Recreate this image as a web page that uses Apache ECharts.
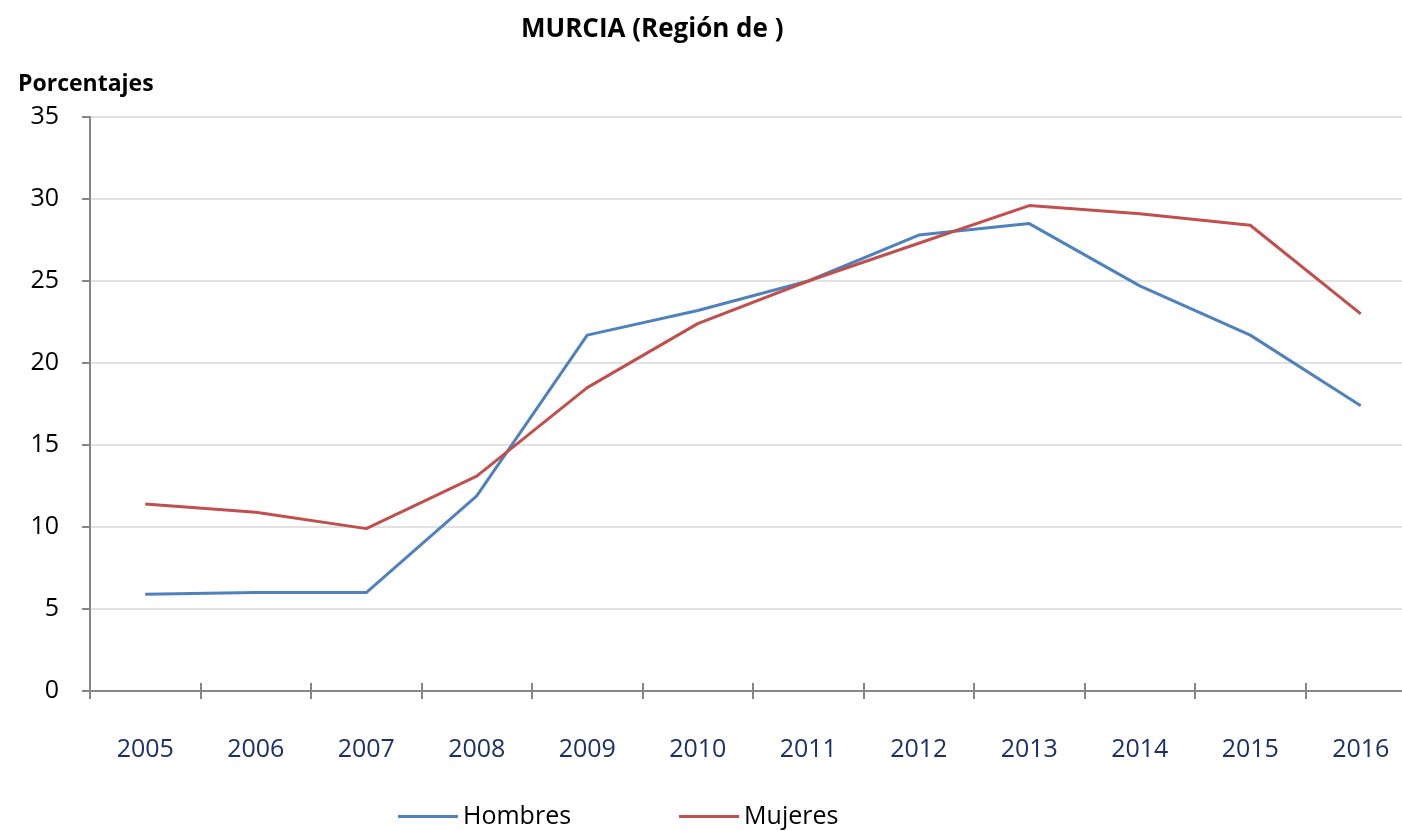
<!DOCTYPE html>
<html>
<head>
<meta charset="utf-8">
<script src="https://cdn.jsdelivr.net/npm/echarts@6/dist/echarts.min.js"></script>
<style>
  html, body { margin: 0; padding: 0; background: #fff; }
  #chart { width: 1402px; height: 831px; }
</style>
</head>
<body>
<div id="chart"></div>
<script>
var years = ['2005', '2006', '2007', '2008', '2009', '2010', '2011', '2012', '2013', '2014', '2015', '2016'];
var hombres = [5.9, 6.0, 6.0, 11.9, 21.7, 23.2, 25.0, 27.8, 28.5, 24.7, 21.7, 17.4];
var mujeres = [11.4, 10.9, 9.9, 13.1, 18.5, 22.4, 25.0, 27.3, 29.6, 29.1, 28.4, 23.0];
var yTicks = [0, 5, 10, 15, 20, 25, 30, 35];

var font = '"Open Sans", Lato, sans-serif';
var myChart = echarts.init(document.getElementById('chart'));

var option = {
  backgroundColor: '#fff',
  animation: false,
  title: [
    {
      text: 'MURCIA (Región de )',
      left: 516,
      top: 12,
      textStyle: { fontFamily: font, fontSize: 26, fontWeight: 'bold', color: '#000' }
    },
    {
      text: 'Porcentajes',
      left: 13,
      top: 68,
      textStyle: { fontFamily: font, fontSize: 23, fontWeight: 'bold', color: '#000' }
    }
  ],
  legend: {
    left: 393,
    top: 799,
    icon: 'rect',
    itemWidth: 60,
    itemHeight: 3,
    itemGap: 108,
    textStyle: { fontFamily: font, fontSize: 25, color: '#000', padding: [0, 0, 0, 0] },
    data: ['Hombres', 'Mujeres']
  },
  grid: { left: 90, width: 1326, top: 117, bottom: 140, containLabel: false, outerBoundsMode: 'none' },
  xAxis: [
    {
      type: 'category',
      data: years,
      boundaryGap: true,
      axisLine: { lineStyle: { color: '#868686', width: 2 } },
      axisTick: { show: true, interval: 0, length: 8, lineStyle: { color: '#868686', width: 2 } },
      axisLabel: { interval: 0, margin: 46, fontFamily: font, fontSize: 25, color: '#1B3068' }
    },
    {
      type: 'category',
      data: years,
      position: 'bottom',
      boundaryGap: true,
      axisLine: { show: false },
      axisTick: { show: true, inside: true, interval: 0, length: 8, lineStyle: { color: '#868686', width: 2 } },
      axisLabel: { show: false }
    }
  ],
  yAxis: {
    type: 'value',
    min: yTicks[0],
    max: yTicks[yTicks.length - 1],
    interval: 5,
    axisLine: { show: true, lineStyle: { color: '#868686', width: 2 } },
    axisTick: { show: true, length: 8, lineStyle: { color: '#868686', width: 2 } },
    axisLabel: { margin: 31, fontFamily: font, fontSize: 25, color: '#000' },
    splitLine: { lineStyle: { color: '#D9D9D9', width: 1.5 } }
  },
  series: [
    {
      name: 'Hombres',
      type: 'line',
      data: hombres,
      symbol: 'none',
      itemStyle: { color: '#4F81BD' },
      lineStyle: { color: '#4F81BD', width: 3 }
    },
    {
      name: 'Mujeres',
      type: 'line',
      data: mujeres,
      symbol: 'none',
      itemStyle: { color: '#C0504D' },
      lineStyle: { color: '#C0504D', width: 3 }
    }
  ]
};

myChart.setOption(option);
</script>
</body>
</html>
